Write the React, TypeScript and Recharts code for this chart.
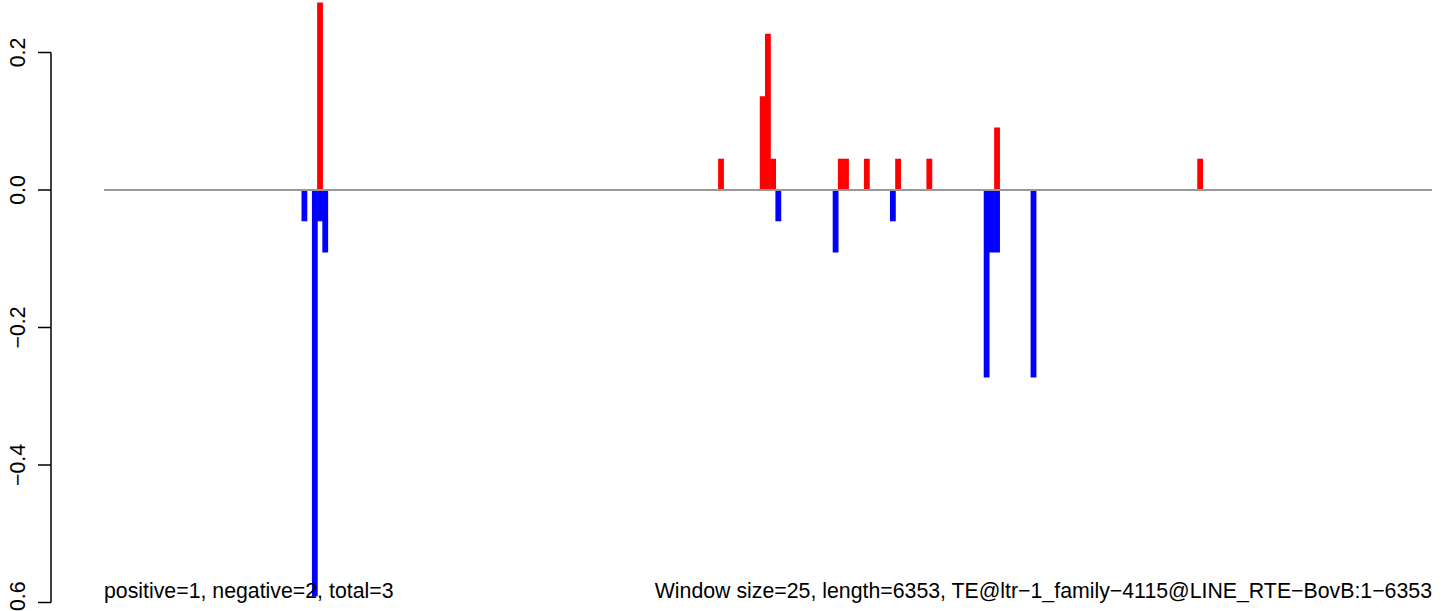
import React from 'react'
import { BarChart, Bar, XAxis, YAxis, ReferenceLine } from 'recharts'

// window counts: length 6353 / window size 25
const WINDOW_COUNT = 255

// sparse window scores (window index -> score)
const posWindows = [41, 118, 126, 127, 128, 141, 142, 146, 152, 158, 171, 210]
const posScores = [0.2727, 0.0455, 0.1364, 0.2273, 0.0455, 0.0455, 0.0455, 0.0455, 0.0455, 0.0455, 0.0909, 0.0455]
const negWindows = [38, 40, 41, 42, 129, 140, 151, 169, 170, 171, 178]
const negScores = [-0.0455, -0.5909, -0.0455, -0.0909, -0.0455, -0.0909, -0.0455, -0.2727, -0.0909, -0.0909, -0.2727]

const yTicks = [-0.6, -0.4, -0.2, 0, 0.2]

const leftNote = 'positive=1, negative=2, total=3'
const rightNote = 'Window size=25, length=6353, TE@ltr\u22121_family\u22124115@LINE_RTE\u2212BovB:1\u22126353'

const W = 1444
const H = 611
const FONT = '"Liberation Sans", Arial, Helvetica, sans-serif'
const FS = 21.3

const data = Array.from({ length: WINDOW_COUNT }, (_, i) => ({ win: i, pos: 0, neg: 0 }))
posWindows.forEach((w, i) => { data[w].pos = posScores[i] })
negWindows.forEach((w, i) => { data[w].neg = negScores[i] })

function fmt(v: number) {
  return v < 0 ? '\u2212' + Math.abs(v).toFixed(1) : v.toFixed(1)
}

function YTick({ x, y, payload }: { x?: number; y?: number; payload?: { value: number } }) {
  return (
    <text
      x={0}
      y={0}
      transform={`translate(${(x ?? 0) - 11}, ${y}) rotate(-90)`}
      textAnchor="middle"
      fontSize={FS}
      fontFamily={FONT}
      fill="#000"
    >
      {fmt(payload?.value ?? 0)}
    </text>
  )
}

// R draws the windows as thick butt-ended lines, a bit wider than the band
function WideBar(props: any) {
  const { x, y, width, height, fill } = props
  if (!height) return null
  return (
    <rect
      x={x - 0.4}
      y={Math.min(y, y + height)}
      width={width + 0.8}
      height={Math.abs(height)}
      fill={fill}
    />
  )
}

export default function App() {
  return (
    <div style={{ position: 'absolute', left: 0, top: 0, width: W, height: H, background: '#fff', overflow: 'hidden' }}>
      {/* axis layer: y axis only spans -0.6 .. 0.2 */}
      <div style={{ position: 'absolute', left: 0, top: 0 }}>
        <BarChart width={W} height={H} data={data} margin={{ top: 52.5, right: 12, bottom: 8.5, left: 0 }}>
          <XAxis dataKey="win" hide />
          <YAxis
            type="number"
            domain={[-0.6, 0.2]}
            ticks={yTicks}
            interval={0}
            allowDataOverflow
            width={51}
            tickSize={13}
            tick={<YTick />}
            axisLine={{ stroke: '#000', strokeWidth: 1.5 }}
            tickLine={{ stroke: '#000', strokeWidth: 1.5 }}
          />
        </BarChart>
      </div>
      {/* data layer */}
      <div style={{ position: 'absolute', left: 0, top: 0 }}>
        <BarChart
          width={W}
          height={H}
          data={data}
          margin={{ top: 0, right: 12, bottom: 8.5, left: 104 }}
          barCategoryGap={0}
          barGap={0}
          stackOffset="sign"
        >
          <XAxis dataKey="win" type="category" hide />
          <YAxis type="number" domain={[-0.6, 0.276364]} allowDataOverflow hide />
          <ReferenceLine y={0} stroke="#999999" strokeWidth={1.8} />
          <Bar dataKey="pos" stackId="s" fill="#ff0000" shape={<WideBar />} isAnimationActive={false} />
          <Bar dataKey="neg" stackId="s" fill="#0000ff" shape={<WideBar />} isAnimationActive={false} />
        </BarChart>
      </div>
      <svg width={W} height={H} style={{ position: 'absolute', left: 0, top: 0, pointerEvents: 'none' }}>
        <text x={104} y={598} fontSize={FS} fontFamily={FONT} fill="#000">{leftNote}</text>
        <text x={1432} y={598} fontSize={FS} fontFamily={FONT} fill="#000" textAnchor="end">{rightNote}</text>
      </svg>
    </div>
  )
}
